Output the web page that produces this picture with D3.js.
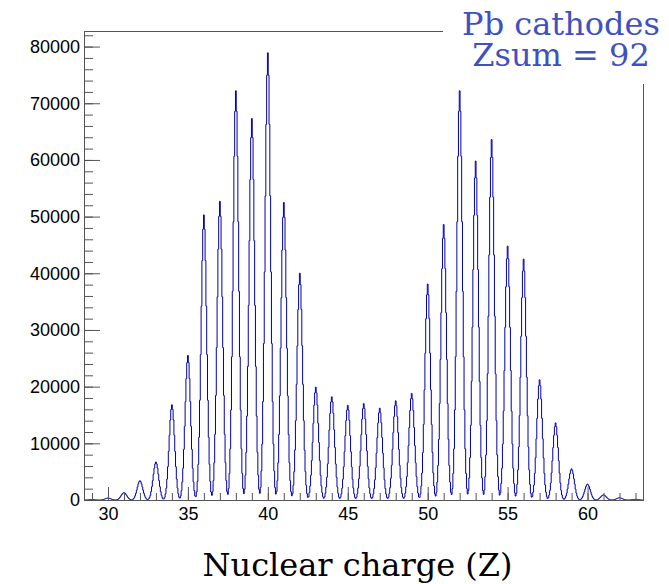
<!DOCTYPE html>
<html>
<head>
<meta charset="utf-8">
<script src="https://cdn.jsdelivr.net/npm/d3@7"></script>
<style>
  body { margin: 0; background: #fff; }
  svg { display: block; }
</style>
</head>
<body>
<script>
// dati
var charges = [29, 30, 31, 32, 33, 34, 35, 36, 37, 38, 39, 40, 41, 42, 43, 44, 45, 46,
               47, 48, 49, 50, 51, 52, 53, 54, 55, 56, 57, 58, 59, 60, 61, 62, 63];
var peakCounts = [80, 350, 1300, 3400, 6700, 16800, 25500, 50300, 52700, 72200, 67300, 78900,
                  52500, 40000, 19900, 18200, 16700, 17000, 16200, 17500, 18800, 38100, 48600,
                  72200, 59800, 63600, 44800, 42500, 21200, 13600, 5500, 2800, 900, 400, 120];
// forma relativa del picco a |Z - picco| = 0, 0.05, 0.10 ... 0.50
var peakShape = [1, 0.95, 0.84, 0.68, 0.51, 0.35, 0.22, 0.125, 0.065, 0.028, 0.008];
var binWidth = 0.05;
var xTicksMajor = [30, 35, 40, 45, 50, 55, 60];
var yTicksMajor = [0, 10000, 20000, 30000, 40000, 50000, 60000, 70000, 80000];

var w = 669, h = 584;
var fLeft = 84, fRight = 643.5, fTop = 31, fBottom = 500;

var svg = d3.select("body").append("svg")
            .attr("width", w)
            .attr("height", h);

var x = d3.scaleLinear().domain([28.5, 63.5]).range([fLeft, fRight]);
var y = d3.scaleLinear().domain([0, 82750]).range([fBottom, fTop]);

// costruisco i bin dell'istogramma dai picchi
var nBins = Math.round(35 / binWidth) + 1;
var bins = [];
for (var k = 0; k < nBins; k++) {
    var c = 28.5 + k * binWidth;
    var v = 0;
    charges.forEach(function(z, i) {
        var idx = Math.round(Math.abs(c - z) / binWidth);
        if (idx < peakShape.length) v += peakCounts[i] * peakShape[idx];
    });
    bins.push([c - binWidth / 2, v]);
}
bins.push([28.5 + (nBins - 1) * binWidth + binWidth / 2, bins[bins.length - 1][1]]);

svg.append("clipPath").attr("id", "frame")
   .append("rect")
   .attr("x", fLeft).attr("y", fTop)
   .attr("width", fRight - fLeft).attr("height", fBottom - fTop);

var line = d3.line()
             .x(function(d) { return x(d[0]); })
             .y(function(d) { return y(d[1]); })
             .curve(d3.curveStepAfter);

svg.append("path")
   .datum(bins)
   .attr("clip-path", "url(#frame)")
   .attr("fill", "none")
   .attr("stroke", "#0000a8")
   .attr("stroke-width", 1)
   .attr("d", line);

// cornice
var frameColor = "#555";
svg.append("line").attr("x1", fLeft).attr("x2", fRight).attr("y1", fTop + 0.5).attr("y2", fTop + 0.5)
   .attr("stroke", frameColor);
svg.append("line").attr("x1", fRight).attr("x2", fRight).attr("y1", fTop).attr("y2", fBottom)
   .attr("stroke", frameColor);

// asse x
var xMinor = d3.range(29, 64);
var gx = svg.append("g").attr("transform", "translate(0," + fBottom + ")");
gx.call(d3.axisBottom(x).tickValues(xMinor).tickSize(-7).tickSizeOuter(0).tickFormat(""));
gx.append("g").call(d3.axisBottom(x).tickValues(xTicksMajor).tickSize(-13).tickSizeOuter(0).tickPadding(7));
gx.selectAll("path.domain").attr("stroke", frameColor);
gx.selectAll("line").attr("stroke", frameColor);
gx.selectAll("text")
  .attr("font-family", "'Liberation Sans', Arial, sans-serif")
  .attr("font-size", 18)
  .attr("fill", "#000");

// asse y
var yMinor = d3.range(0, 82001, 2000);
var gy = svg.append("g").attr("transform", "translate(" + fLeft + ",0)");
gy.call(d3.axisLeft(y).tickValues(yMinor).tickSize(-9).tickSizeOuter(0).tickFormat(""));
gy.append("g").call(d3.axisLeft(y).tickValues(yTicksMajor).tickSize(-16).tickSizeOuter(0).tickPadding(4)
          .tickFormat(d3.format("d")));
gy.selectAll("path.domain").attr("stroke", frameColor);
gy.selectAll("line").attr("stroke", frameColor);
gy.selectAll("text")
  .attr("font-family", "'Liberation Sans', Arial, sans-serif")
  .attr("font-size", 18)
  .attr("fill", "#000");

// riquadro del titolo
svg.append("rect")
   .attr("x", 443).attr("y", 0)
   .attr("width", w - 443).attr("height", 84)
   .attr("fill", "#fff");

var title = svg.append("text")
   .attr("font-family", "'DejaVu Serif', serif")
   .attr("font-size", 32)
   .attr("fill", "#3f51c1")
   .attr("text-anchor", "middle");
title.append("tspan").attr("x", 561).attr("y", 35).text("Pb cathodes");
title.append("tspan").attr("x", 561).attr("y", 66).text("Zsum = 92");

svg.append("text")
   .attr("x", 357.5).attr("y", 576)
   .attr("text-anchor", "middle")
   .attr("font-family", "'DejaVu Serif', serif")
   .attr("font-size", 32)
   .attr("fill", "#000")
   .text("Nuclear charge (Z)");
</script>
</body>
</html>
